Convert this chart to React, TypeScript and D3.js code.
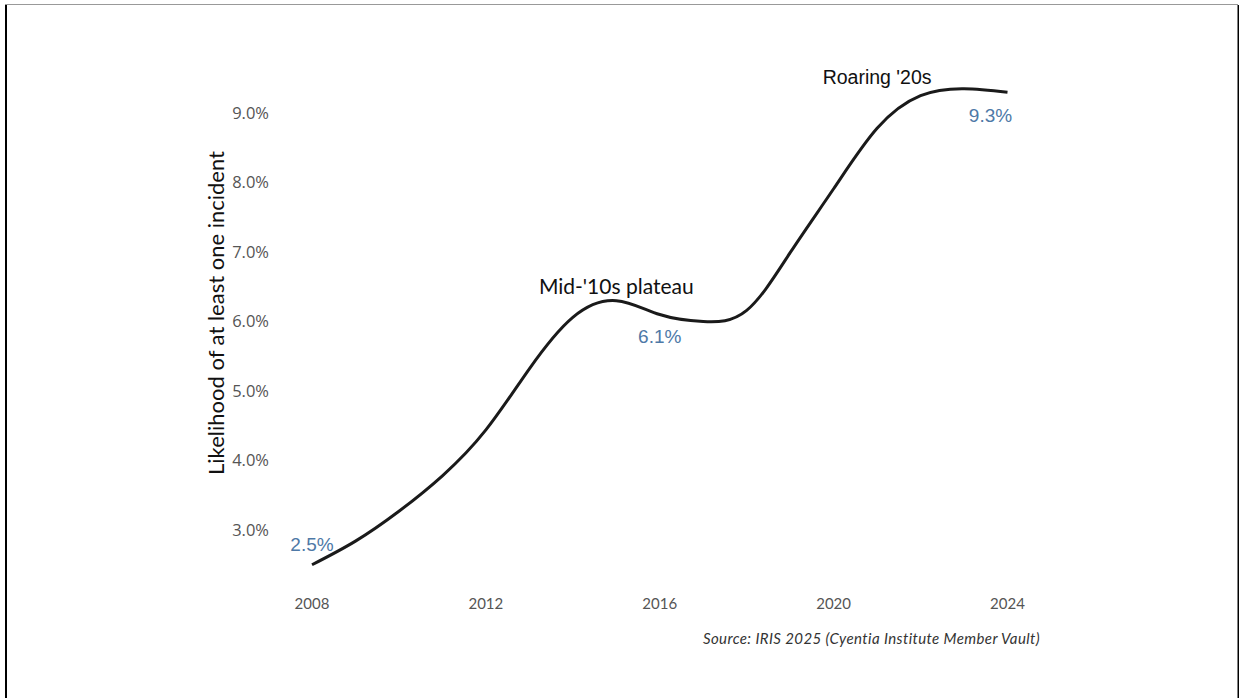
import React from "react";
import * as d3 from "d3";

// Yearly likelihood of at least one incident (%), read along the smoothed trend
const years = [2008, 2009, 2010, 2011, 2012, 2013, 2014, 2015, 2016, 2017, 2018, 2019, 2020, 2021, 2022, 2023, 2024];
const likelihood = [2.5, 2.84, 3.27, 3.78, 4.44, 5.32, 6.06, 6.3, 6.1, 6.0, 6.16, 6.99, 7.91, 8.78, 9.25, 9.35, 9.3];

const xTicks = [2008, 2012, 2016, 2020, 2024];
const yTicks = [3, 4, 5, 6, 7, 8, 9];

// Value callouts and era annotations
const valueLabels = [
  { year: 2008, value: 2.5, dx: 0, dy: -14 },
  { year: 2016, value: 6.1, dx: 0, dy: 28 },
  { year: 2024, value: 9.3, dx: -17, dy: 30 },
];
const eras = [
  { year: 2015, value: 6.3, text: "Mid-'10s plateau" },
  { year: 2021, value: 9.3, text: "Roaring '20s" },
];

const W = 1240;
const H = 698;

export default function App() {
  const x = d3.scaleLinear().domain([2008, 2024]).range([312, 1007.5]);
  const y = d3.scaleLinear().domain([3, 9]).range([530, 113]);

  const data = years.map((yr, i) => ({ yr, v: likelihood[i] }));
  const line = d3
    .line<{ yr: number; v: number }>()
    .x((d) => x(d.yr))
    .y((d) => y(d.v))
    .curve(d3.curveNatural);

  const valueAt = (yr: number) => likelihood[years.indexOf(yr)];

  return (
    <svg
      width={W}
      height={H}
      style={{ position: "fixed", left: 0, top: 0, background: "#fff" }}
    >
      {/* frame */}
      <rect x={0} y={0} width={W} height={H} fill="#fff" />
      <line x1={5} x2={1238} y1={4.5} y2={4.5} stroke="#999" strokeWidth={1} />
      <rect x={5} y={5} width={2} height={H - 5} fill="#000" />
      <rect x={1237.5} y={5} width={1.5} height={H - 5} fill="#000" />

      {/* y ticks */}
      {yTicks.map((t) => (
        <text
          key={t}
          x={269}
          y={y(t)}
          dy="0.35em"
          textAnchor="end"
          fontFamily="'Open Sans', sans-serif"
          fontSize={16.5}
          fill="#555"
        >
          {d3.format(".1f")(t) + "%"}
        </text>
      ))}

      {/* x ticks */}
      {xTicks.map((t) => (
        <text
          key={t}
          x={x(t)}
          y={609}
          textAnchor="middle"
          fontFamily="'Source Sans Pro', Lato, sans-serif"
          fontSize={15}
          fill="#555"
        >
          {t}
        </text>
      ))}

      {/* y axis title */}
      <text
        transform={`translate(224,313) rotate(-90)`}
        textAnchor="middle"
        fontFamily="'Source Sans Pro', Lato, sans-serif"
        fontSize={22}
        fill="#111"
      >
        Likelihood of at least one incident
      </text>

      {/* trend line */}
      <path d={line(data) ?? ""} fill="none" stroke="#1a1a1a" strokeWidth={3} strokeLinecap="butt" />

      {/* value callouts */}
      {valueLabels.map((l) => (
        <text
          key={l.year}
          x={x(l.year) + l.dx}
          y={y(valueAt(l.year)) + l.dy}
          textAnchor="middle"
          fontFamily="'Liberation Sans', Arial, sans-serif"
          fontSize={19}
          fill="#4e79a7"
        >
          {l.value.toFixed(1) + "%"}
        </text>
      ))}

      {/* era annotations */}
      <text
        x={x(eras[0].year)}
        y={y(eras[0].value) - 7}
        textAnchor="middle"
        fontFamily="Lato, sans-serif"
        fontSize={21}
        fill="#111"
      >
        {eras[0].text}
      </text>
      <text
        x={x(eras[1].year)}
        y={84}
        textAnchor="middle"
        fontFamily="'Liberation Sans', Arial, sans-serif"
        fontSize={19.5}
        fill="#111"
      >
        {eras[1].text}
      </text>

      {/* source */}
      <text
        x={1040}
        y={644}
        textAnchor="end"
        fontFamily="'Source Sans Pro', Lato, sans-serif"
        fontStyle="italic"
        fontSize={15}
        letterSpacing={0.4}
        fill="#333"
      >
        Source: IRIS 2025 (Cyentia Institute Member Vault)
      </text>
    </svg>
  );
}
